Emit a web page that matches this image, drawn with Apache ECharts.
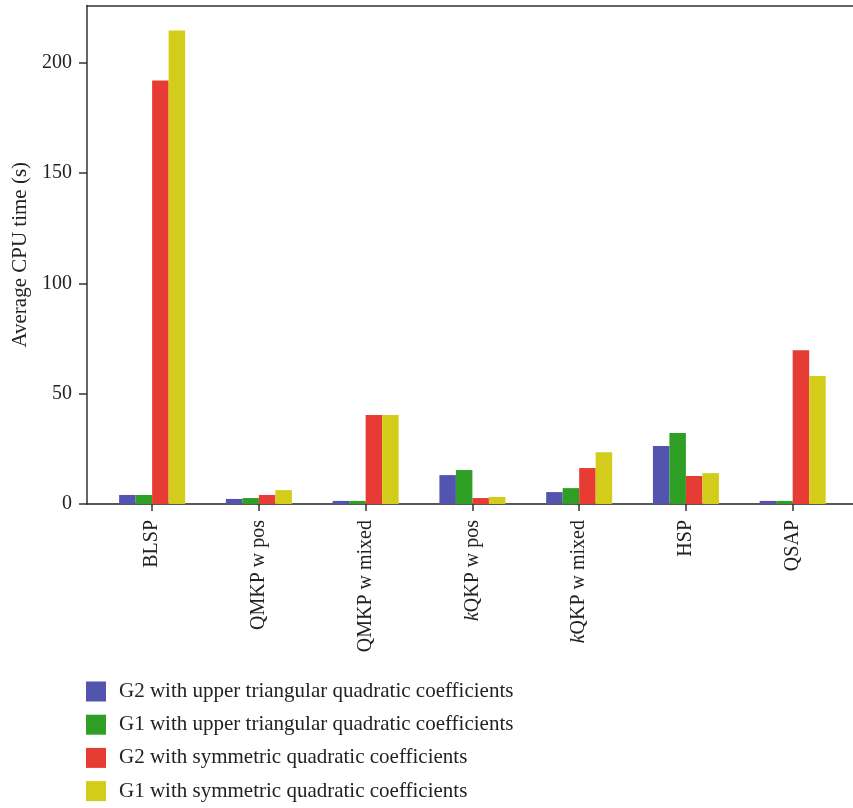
<!DOCTYPE html>
<html>
<head>
<meta charset="utf-8">
<script src="https://cdn.jsdelivr.net/npm/echarts@6/dist/echarts.min.js"></script>
<style>
  html, body { margin: 0; padding: 0; background: #fff; }
  #chart { width: 853px; height: 808px; }
</style>
</head>
<body>
<div id="chart"></div>
<script>
// Problem classes (x axis) and average CPU time per formulation (seconds)
const categories = ['BLSP', 'QMKP w pos', 'QMKP w mixed', 'kQKP w pos', 'kQKP w mixed', 'HSP', 'QSAP'];
const seriesNames = [
  'G2 with upper triangular quadratic coefficients',
  'G1 with upper triangular quadratic coefficients',
  'G2 with symmetric quadratic coefficients',
  'G1 with symmetric quadratic coefficients'
];
const g2Upper = [4.1, 2.3, 1.4, 13.1, 5.4, 26.3, 1.4];
const g1Upper = [4.1, 2.7, 1.4, 15.4, 7.2, 32.2, 1.4];
const g2Sym   = [192.0, 4.1, 40.3, 2.7, 16.3, 12.7, 69.7];
const g1Sym   = [214.7, 6.3, 40.3, 3.2, 23.5, 14.0, 58.0];
const yTicks = [0, 50, 100, 150, 200];

const colors = ['#5353b0', '#2f9e25', '#e63c33', '#d4cc1b'];
const font = 'Liberation Serif, Times New Roman, serif';
const ink = '#222';

const chart = echarts.init(document.getElementById('chart'), null, { renderer: 'canvas' });

// Category slots sit at integer positions 0..n-1 on a numeric axis
const positions = categories.map((_, i) => i);
const toPairs = vals => vals.map((v, i) => [positions[i], v]);

function labelFor(v) {
  const name = categories[Math.round(v)];
  if (name === undefined) return '';
  if (name.charAt(0) === 'k') return '{it|k}' + name.slice(1);
  return name;
}

const allValues = [g2Upper, g1Upper, g2Sym, g1Sym];

chart.setOption({
  animation: false,
  color: colors,
  grid: { left: 87, right: 0, top: 5.5, bottom: 304, containLabel: false },
  legend: {
    orient: 'vertical',
    left: 86,
    top: 681,
    padding: 0,
    itemWidth: 20,
    itemHeight: 20,
    itemGap: 12.2,
    icon: 'rect',
    data: seriesNames,
    textStyle: { fontFamily: font, fontSize: 21, color: ink, padding: [0, 0, 0, 8] }
  },
  xAxis: [{
    type: 'value',
    min: -0.61,
    max: 6.565,
    splitLine: { show: false },
    axisLine: { show: true, onZero: false, lineStyle: { color: ink, width: 1.5 } },
    axisTick: { show: true, length: 7, customValues: positions, lineStyle: { color: '#333', width: 1.5 } },
    axisLabel: {
      customValues: positions,
      rotate: 90,
      margin: 16,
      fontFamily: font,
      fontSize: 20,
      color: ink,
      formatter: labelFor,
      rich: { it: { fontFamily: font, fontSize: 20, fontStyle: 'italic', color: ink } }
    }
  }, {
    type: 'value',
    position: 'top',
    min: -0.61,
    max: 6.565,
    splitLine: { show: false },
    axisLine: { show: true, onZero: false, lineStyle: { color: '#333', width: 1.5 } },
    axisTick: { show: false },
    axisLabel: { show: false }
  }],
  yAxis: {
    type: 'value',
    min: 0,
    max: 226,
    name: 'Average CPU time (s)',
    nameLocation: 'middle',
    nameGap: 55,
    nameTextStyle: { fontFamily: font, fontSize: 21, color: ink },
    splitLine: { show: false },
    axisLine: { show: true, onZero: false, lineStyle: { color: '#333', width: 1.5 } },
    axisTick: { show: true, length: 8, customValues: yTicks, lineStyle: { color: '#333', width: 1.5 } },
    axisLabel: { customValues: yTicks, margin: 15, fontFamily: font, fontSize: 20, color: ink }
  },
  series: seriesNames.map((name, k) => ({
    name: name,
    type: 'bar',
    xAxisIndex: 0,
    barWidth: 16.5,
    barGap: '0%',
    data: toPairs(allValues[k]),
    itemStyle: { color: colors[k] }
  }))
});
</script>
</body>
</html>
